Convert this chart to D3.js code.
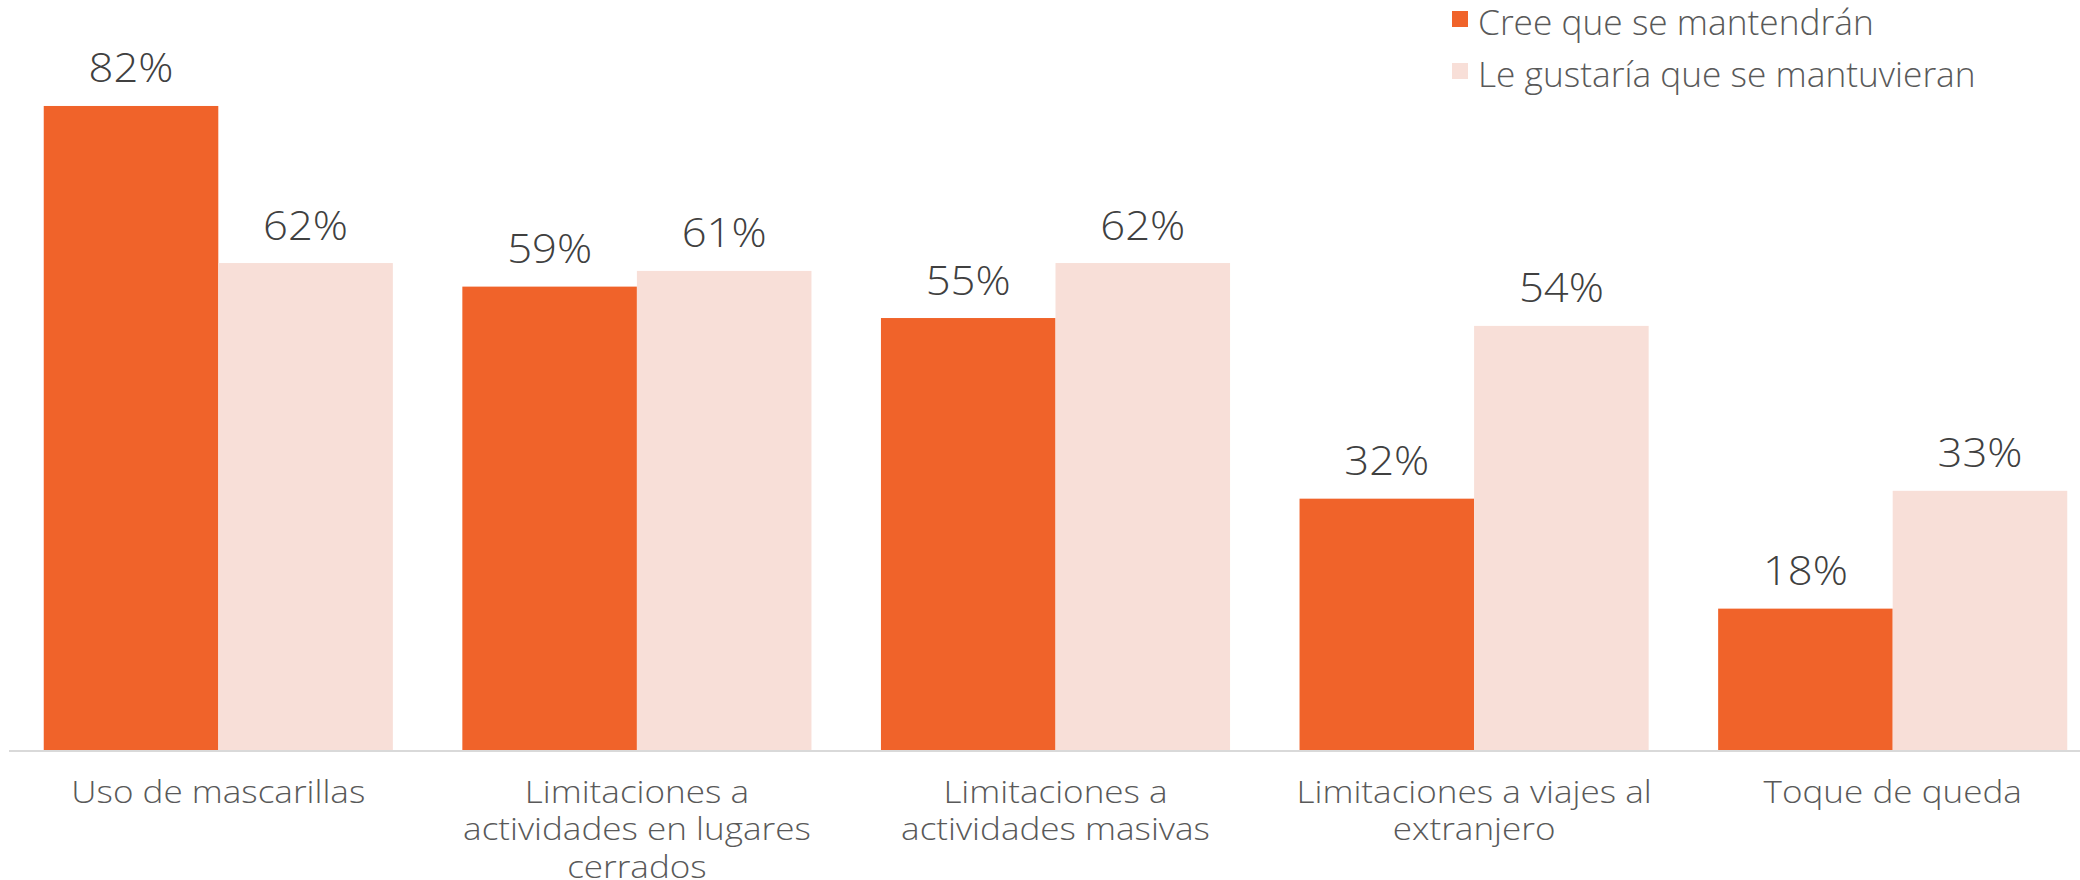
<!DOCTYPE html>
<html>
<head>
<meta charset="utf-8">
<script src="https://cdn.jsdelivr.net/npm/d3@7"></script>
<style>
  html, body { margin: 0; padding: 0; background: #ffffff; }
  svg { display: block; }
  text { font-family: "Open Sans", "Noto Sans", sans-serif; font-weight: 300; }
</style>
</head>
<body>
<svg id="chart" width="2080" height="880"></svg>
<script>
const categories = [
  "Uso de mascarillas",
  "Limitaciones a actividades en lugares cerrados",
  "Limitaciones a actividades masivas",
  "Limitaciones a viajes al extranjero",
  "Toque de queda"
];
const categoryLines = [
  ["Uso de mascarillas"],
  ["Limitaciones a", "actividades en lugares", "cerrados"],
  ["Limitaciones a", "actividades masivas"],
  ["Limitaciones a viajes al", "extranjero"],
  ["Toque de queda"]
];
const seriesNames = ["Cree que se mantendrán", "Le gustaría que se mantuvieran"];
const creeValues = [0.82, 0.59, 0.55, 0.32, 0.18];
const gustariaValues = [0.62, 0.61, 0.62, 0.54, 0.33];
const colors = ["#F0632A", "#F8DFD8"];

const svg = d3.select("#chart");
const baseY = 750;

// horizontal stretch so the installed font matches the wider original typeface
function stretchFactor(sample, size, target) {
  const t = svg.append("text").attr("font-size", size).text(sample);
  const w = t.node().getComputedTextLength();
  t.remove();
  return target / w;
}
const fVal = stretchFactor("82%", 41, 85);
const fAxis = stretchFactor("Uso de mascarillas", 32, 294);
const fLeg = stretchFactor("Cree que se mantendrán", 35, 396);

const x0 = d3.scaleBand().domain(categories).range([9, 2102]).paddingInner(0.166).paddingOuter(0.083);
const x1 = d3.scaleBand().domain(seriesNames).range([0, x0.bandwidth()]).padding(0);
const y = d3.scaleLinear().domain([0, 1]).range([baseY, baseY - 785.4]);

const rows = categories.map((c, i) => ({ cat: c, vals: [creeValues[i], gustariaValues[i]] }));

const groups = svg.append("g").selectAll("g").data(rows).join("g")
  .attr("transform", d => `translate(${x0(d.cat)},0)`);

groups.selectAll("rect").data(d => d.vals.map((v, j) => ({ s: seriesNames[j], v, j })))
  .join("rect")
  .attr("x", d => x1(d.s))
  .attr("y", d => y(d.v))
  .attr("width", x1.bandwidth())
  .attr("height", d => baseY - y(d.v))
  .attr("fill", d => colors[d.j]);

groups.selectAll("text.val").data(d => d.vals.map((v, j) => ({ s: seriesNames[j], v, j })))
  .join("text")
  .attr("class", "val")
  .attr("transform", d => `translate(${x1(d.s) + x1.bandwidth() / 2},${y(d.v) - 23.5}) scale(${fVal},1)`)
  .attr("text-anchor", "middle")
  .attr("font-size", 41)
  .attr("fill", "#404040")
  .text(d => d3.format(".0%")(d.v));

// x axis
const xAxis = d3.axisBottom(x0).tickSize(0).tickFormat("");
const axG = svg.append("g").attr("transform", `translate(0,${baseY})`).call(xAxis);
axG.select(".domain").remove();
svg.append("line").attr("x1", 9).attr("x2", 2080).attr("y1", baseY + 1).attr("y2", baseY + 1)
  .attr("stroke", "#D9D9D9").attr("stroke-width", 2);

axG.selectAll(".tick").each(function(d, i) {
  const t = d3.select(this).append("text")
    .attr("transform", `scale(${fAxis},1)`)
    .attr("text-anchor", "middle")
    .attr("font-size", 32)
    .attr("fill", "#595959");
  categoryLines[i].forEach((ln, k) => {
    t.append("tspan").attr("x", 0).attr("y", 53 + k * 37.5).text(ln);
  });
});

// legend
const legend = svg.append("g").attr("transform", "translate(1452,0)");
seriesNames.forEach((s, i) => {
  const g = legend.append("g").attr("transform", `translate(0,${i * 52})`);
  g.append("rect").attr("x", 0).attr("y", 11).attr("width", 16).attr("height", 16).attr("fill", colors[i]);
  g.append("text").attr("transform", `translate(26,35) scale(${fLeg},1)`)
    .attr("font-size", 35).attr("fill", "#595959").text(s);
});
</script>
</body>
</html>
